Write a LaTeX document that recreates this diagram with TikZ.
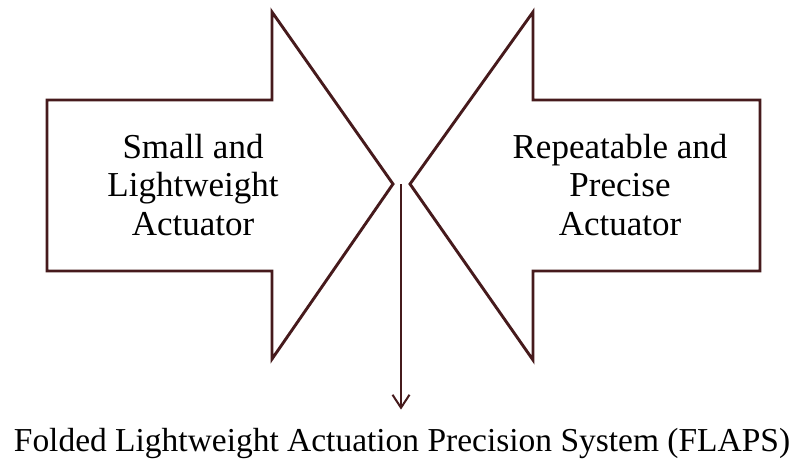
\documentclass[tikz,border=0pt]{standalone}
\usepackage{fontspec}
\setmainfont{Liberation Serif}
\usetikzlibrary{arrows.meta}
\definecolor{maroon}{RGB}{70,26,28}
\tikzset{
  blockarrow/.style={draw=maroon, line width=2.9pt, line join=miter, fill=white},
  label/.style={align=center, font=\fontsize{35}{38.5}\selectfont, text=black, inner sep=0pt},
  conn/.style={draw=maroon, line width=2pt, -{Straight Barb[length=13pt,width=17pt,line width=2pt]}}
}
\begin{document}
\begin{tikzpicture}[x=1pt,y=-1pt]
\useasboundingbox (0,0) rectangle (804,464);
\fill[white] (0,0) rectangle (804,464);
\draw[blockarrow] (47,100) -- (272,100) -- (272,12) -- (393,184) -- (272,359) -- (272,271) -- (47,271) -- cycle;
\draw[blockarrow] (760,100) -- (533,100) -- (533,12) -- (410,184) -- (533,360) -- (533,271) -- (760,271) -- cycle;
\node[label] (left) at (193,185) {Small and\\Lightweight\\Actuator};
\node[label] (right) at (620,185) {Repeatable and\\Precise\\Actuator};
\coordinate (c) at (401,184);
\node[inner sep=0pt, anchor=base] (bot) at (402,451) {\resizebox{776pt}{!}{Folded Lightweight Actuation Precision System (FLAPS)}};
\draw[conn] (c) -- ([yshift=18pt]c |- bot.north);
\end{tikzpicture}
\end{document}
